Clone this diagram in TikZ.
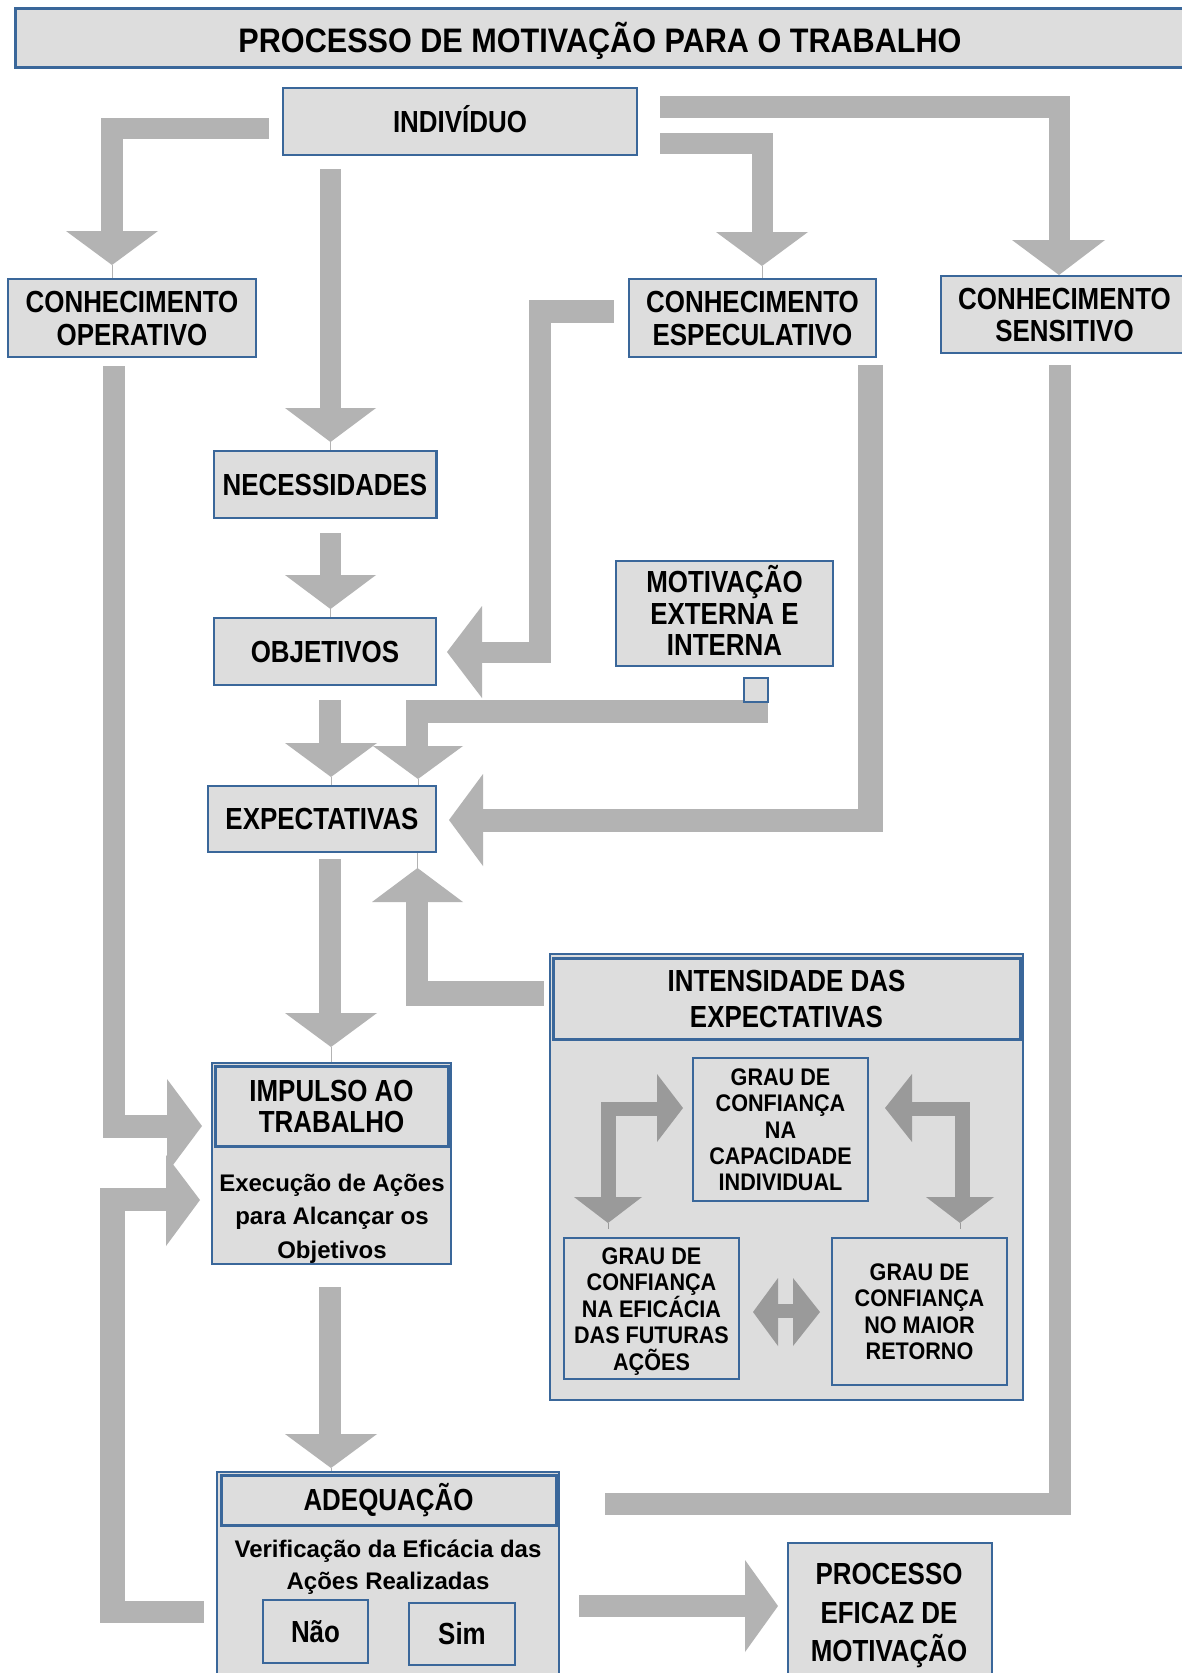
\documentclass[tikz,border=0pt]{standalone}
\usepackage{fontspec}
\newfontfamily\nfont{Liberation Sans}[FakeStretch=0.85]
\newfontfamily\mfont{Liberation Sans}[FakeStretch=0.9]
\newfontfamily\wfont{Liberation Sans}
\definecolor{boxc}{HTML}{DDDDDD}
\definecolor{bordc}{HTML}{3A679A}
\definecolor{arrc}{HTML}{B3B3B3}
\definecolor{inarr}{HTML}{9A9A9A}
\newcommand\ST{\rule[-0.284em]{0pt}{1.284em}}
\newcommand\fsz[2]{\fontsize{#1pt}{#2pt}\selectfont\lineskiplimit=-\maxdimen\relax}
\tikzset{
  box/.style={draw=bordc, fill=boxc, line width=2.5pt, inner sep=0pt, align=center},
  lb/.style={font=\nfont\bfseries\fsz{30.5}{#1}}, lb/.default=33,
  gr/.style={font=\mfont\bfseries\fsz{24}{#1}}, gr/.default=26.5,
  mx/.style={font=\wfont\bfseries\fsz{24}{#1}}, mx/.default=33,
  arr/.style={fill=arrc},
  inarrow/.style={fill=inarr},
  hair/.style={draw=arrc, line width=0.6pt},
  inhair/.style={draw=inarr, line width=0.6pt},
  txt/.style={inner sep=0pt, align=center}
}
\begin{document}
\begin{tikzpicture}[x=1pt, y=-1pt]
\useasboundingbox (0,0) rectangle (1182,1673);
\fill[white] (0,0) rectangle (1182,1673);

% ---------- block arrows ----------
% Individuo -> Operativo
\fill[arr] (101,118) rectangle (269,139);
\fill[arr] (101,118) rectangle (123,231);
\fill[arr] (66,231) -- (158,231) -- (112,265) -- cycle;
% Individuo -> Necessidades
\fill[arr] (320,169) rectangle (341,408);
\fill[arr] (285,408) -- (376,408) -- (330.5,442) -- cycle;
% Necessidades -> Objetivos
\fill[arr] (320,533) rectangle (341,575);
\fill[arr] (285,575) -- (376,575) -- (330.5,609) -- cycle;
% Objetivos -> Expectativas
\fill[arr] (319,700) rectangle (341,743);
\fill[arr] (285,743) -- (377,743) -- (331,777) -- cycle;
% Expectativas -> Impulso
\fill[arr] (319,859) rectangle (341,1013);
\fill[arr] (285,1013) -- (377,1013) -- (331,1047) -- cycle;
% Impulso -> Adequacao
\fill[arr] (319,1287) rectangle (341,1434);
\fill[arr] (285,1434) -- (377,1434) -- (331,1468) -- cycle;
% Individuo -> Especulativo
\fill[arr] (660,133) rectangle (773,154);
\fill[arr] (752,133) rectangle (773,232);
\fill[arr] (716,232) -- (808,232) -- (762,266) -- cycle;
% Individuo -> Sensitivo
\fill[arr] (660,96) rectangle (1070,118);
\fill[arr] (1049,96) rectangle (1070,240);
\fill[arr] (1012,240) -- (1105,240) -- (1059,275) -- cycle;
% Especulativo -> Objetivos
\fill[arr] (529,300) rectangle (614,323);
\fill[arr] (529,300) rectangle (551,663);
\fill[arr] (482,642) rectangle (551,663);
\fill[arr] (482,606) -- (482,698) -- (447,652) -- cycle;
% Especulativo -> Expectativas
\fill[arr] (858,365) rectangle (883,832);
\fill[arr] (483,809) rectangle (883,832);
\fill[arr] (483,774) -- (483,866) -- (449,820) -- cycle;
% Motivacao -> Expectativas
\fill[arr] (406,700) rectangle (768,723);
\fill[arr] (406,700) rectangle (428,746);
\fill[arr] (373,746) -- (463,746) -- (418,779) -- cycle;
% Intensidade -> Expectativas
\fill[arr] (406,981) rectangle (544,1006);
\fill[arr] (406,902) rectangle (428,1006);
\fill[arr] (372,902) -- (463,902) -- (417.5,868) -- cycle;
% Operativo -> Impulso
\fill[arr] (103,366) rectangle (125,1138);
\fill[arr] (103,1115) rectangle (167,1138);
\fill[arr] (167,1079) -- (167,1173) -- (202,1126) -- cycle;
% Adequacao -> Impulso
\fill[arr] (100,1188) rectangle (125,1623);
\fill[arr] (100,1188) rectangle (166,1211);
\fill[arr] (166,1155) -- (166,1246) -- (200,1200) -- cycle;
\fill[arr] (100,1601) rectangle (204,1623);
% Sensitivo -> Adequacao
\fill[arr] (1049,365) rectangle (1071,1515);
\fill[arr] (605,1493) rectangle (1071,1515);
% Adequacao -> Processo eficaz
\fill[arr] (579,1595) rectangle (745,1617);
\fill[arr] (745,1560) -- (745,1652) -- (778,1606) -- cycle;

% ---------- boxes ----------
\node[box, line width=3pt, minimum width=1171pt, minimum height=59pt] (title) at (600.5,37.5) {};
\node[txt, font=\mfont\bfseries\fsz{34}{34}] (titletxt) at (600,40.5) {\ST PROCESSO DE MOTIVAÇÃO PARA O TRABALHO};

\node[box, lb, minimum width=354pt, minimum height=67pt] (indiv) at (460,121.5) {\ST INDIVÍDUO};
\node[box, lb=32.5, minimum width=248pt, minimum height=78pt] (oper) at (132,318) {\ST CONHECIMENTO\\\ST OPERATIVO};
\node[box, lb=32.5, minimum width=247pt, minimum height=78pt] (espec) at (752.5,318) {\ST CONHECIMENTO\\\ST ESPECULATIVO};
\node[box, lb=32, minimum width=247pt, minimum height=77pt] (sens) at (1064.5,314.5) {\ST CONHECIMENTO\\\ST SENSITIVO};
\node[box, lb, minimum width=222.5pt, minimum height=67pt] (necess) at (325,484.5) {\ST NECESSIDADES};
\node[box, lb, minimum width=222pt, minimum height=67pt] (obj) at (325,651.5) {\ST OBJETIVOS};
\node[box, lb=31.5, minimum width=217pt, minimum height=105pt] (motiv) at (724.5,613.5) {\ST MOTIVAÇÃO\\\ST EXTERNA E\\\ST INTERNA};
\node[box, line width=2pt, minimum width=24pt, minimum height=24pt] (sq) at (756,690) {};
\node[box, lb, minimum width=228pt, minimum height=66pt] (expect) at (322,819) {\ST EXPECTATIVAS};

% Intensidade das expectativas
\node[box, minimum width=473pt, minimum height=446pt] (intens) at (786.5,1177) {};
\node[box, lb=36, line width=3pt, minimum width=467pt, minimum height=81pt] (intensh) at (786.5,998.5) {\ST INTENSIDADE DAS\\\ST EXPECTATIVAS};
\node[box, gr=26.4, minimum width=175pt, minimum height=143pt] (cap) at (780.5,1129.5) {\ST GRAU DE\\\ST CONFIANÇA\\\ST NA\\\ST CAPACIDADE\\\ST INDIVIDUAL};
\node[box, gr, minimum width=175pt, minimum height=141pt] (efic) at (651.5,1308.5) {\ST GRAU DE\\\ST CONFIANÇA\\\ST NA EFICÁCIA\\\ST DAS FUTURAS\\\ST AÇÕES};
\node[box, gr, minimum width=175pt, minimum height=147pt] (ret) at (919.5,1311.5) {\ST GRAU DE\\\ST CONFIANÇA\\\ST NO MAIOR\\\ST RETORNO};

% inner arrows
\fill[inarrow] (601,1102) rectangle (616,1197);
\fill[inarrow] (601,1102) rectangle (657,1116);
\fill[inarrow] (657,1074) -- (657,1142) -- (683,1108) -- cycle;
\fill[inarrow] (574,1197) -- (642,1197) -- (608,1223) -- cycle;
\fill[inarrow] (912,1102) rectangle (970,1116);
\fill[inarrow] (955,1102) rectangle (970,1197);
\fill[inarrow] (912,1074) -- (912,1142) -- (885,1108) -- cycle;
\fill[inarrow] (926,1197) -- (994,1197) -- (960,1223) -- cycle;
\fill[inarrow] (777,1304) rectangle (794,1318);
\fill[inarrow] (778,1278) -- (778,1346) -- (753,1312) -- cycle;
\fill[inarrow] (793,1278) -- (793,1346) -- (820,1312) -- cycle;
\draw[inhair] (608,1223) -- (608,1229);
\draw[inhair] (960,1223) -- (960,1229);

% Impulso ao trabalho
\node[box, minimum width=239pt, minimum height=201pt] (imp) at (331.5,1163.5) {};
\node[box, lb=31.5, line width=3pt, minimum width=233pt, minimum height=80pt] (imph) at (331.5,1106) {\ST IMPULSO AO\\\ST TRABALHO};
\node[txt, mx=33.5] (impb) at (332,1216) {\ST Execução de Ações\\\ST para Alcançar os\\\ST Objetivos};

% Adequacao
\node[box, minimum width=342pt, minimum height=218pt] (adeq) at (388,1581) {};
\node[box, lb, line width=3pt, minimum width=335pt, minimum height=50pt] (adeqh) at (388.5,1500) {\ST ADEQUAÇÃO};
\node[txt, mx=32] (adeqb) at (388,1565) {\ST Verificação da Eficácia das\\\ST Ações Realizadas};
\node[box, lb, minimum width=105pt, minimum height=63pt] (nao) at (315.5,1631.5) {\ST Não};
\node[box, lb, minimum width=106pt, minimum height=62pt] (sim) at (462,1634) {\ST Sim};

% Processo eficaz
\node[box, minimum width=204pt, minimum height=147pt] (eficaz) at (890,1616.5) {};
\node[txt, lb=38.5] (eficaztxt) at (889,1612.5) {\ST PROCESSO\\\ST EFICAZ DE\\\ST MOTIVAÇÃO};

% hairlines at arrow tips
\draw[hair] (112,265) -- (oper.north -| 112,0);
\draw[hair] (330.5,442) -- (necess.north -| 330.5,0);
\draw[hair] (330.5,609) -- (obj.north -| 330.5,0);
\draw[hair] (331,777) -- (expect.north -| 331,0);
\draw[hair] (418,779) -- (expect.north -| 418,0);
\draw[hair] (417.5,868) -- (expect.south -| 417.5,0);
\draw[hair] (331,1047) -- (imp.north -| 331,0);
\draw[hair] (331,1468) -- (adeq.north -| 331,0);
\draw[hair] (762,266) -- (espec.north -| 762,0);
\end{tikzpicture}
\end{document}
